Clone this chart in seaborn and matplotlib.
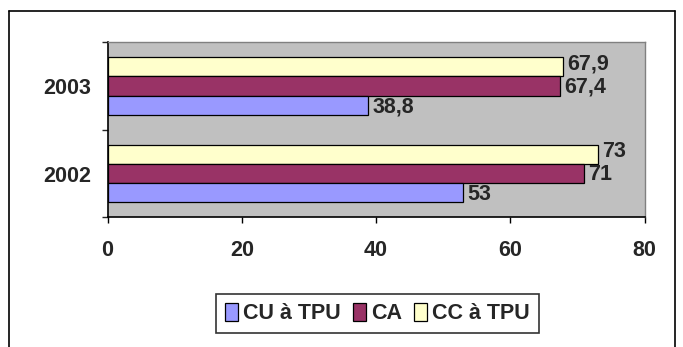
import matplotlib
matplotlib.use("Agg")
import matplotlib.pyplot as plt
from matplotlib.patches import Patch
from matplotlib.lines import Line2D
import seaborn as sns
import pandas as pd

years = ['2003', '2002']
series = ['CU à TPU', 'CA', 'CC à TPU']
cu_tpu = [38.8, 53]
ca = [67.4, 71]
cc_tpu = [67.9, 73]
colors = {'CU à TPU': '#9999FF', 'CA': '#993366', 'CC à TPU': '#FFFFCC'}

rows = []
for name, vals in zip(series, [cu_tpu, ca, cc_tpu]):
    for yr, v in zip(years, vals):
        rows.append({'year': yr, 'serie': name, 'value': v})
df = pd.DataFrame(rows)

sns.set_style('white')
plt.rcParams['font.family'] = ['Liberation Sans Narrow', 'Liberation Sans', 'DejaVu Sans']
plt.rcParams['font.weight'] = 'bold'
FS = 15.5

fig = plt.figure(figsize=(6.83, 3.47), dpi=100)
ax = fig.add_axes([0.1574, 0.3738, 0.7864, 0.5042])
ax.set_facecolor('#C0C0C0')

# seaborn puts the first hue on top, so reverse to get CU at the bottom
hue_order = series[::-1]
sns.barplot(data=df, x='value', y='year', hue='serie', order=years,
            hue_order=hue_order, palette=colors, orient='h', width=0.66,
            edgecolor='black', linewidth=0.9, saturation=1, ax=ax, legend=False)

for cont, name in zip(ax.containers, hue_order):
    vals = df[df['serie'] == name].set_index('year').loc[years, 'value']
    labels = [f'{v:g}'.replace('.', ',') for v in vals]
    txts = ax.bar_label(cont, labels=labels, padding=3, fontsize=FS, fontweight='bold')
    # small vertical nudge so neighbouring labels don't collide
    dy = {'CC à TPU': 2, 'CA': -1, 'CU à TPU': -1}[name]
    for t in txts:
        x, y = t.xyann
        t.xyann = (x, dy)

ax.set_xlim(0, 80)
ax.set_ylim(1.5, -0.5)
ax.set_xticks([0, 20, 40, 60, 80])
ax.tick_params(axis='x', direction='out', length=4, width=1, pad=12,
               labelsize=FS, color='black', bottom=True)
ax.set_yticks([-0.5, 0.5, 1.5])
ax.set_yticklabels([])
ax.set_yticks([0, 1], minor=True)
ax.set_yticklabels(years, minor=True)
ax.tick_params(axis='y', which='major', direction='out', length=4, width=1, left=True)
ax.tick_params(axis='y', which='minor', length=0, pad=12, labelsize=FS)
ax.set_xlabel('')
ax.set_ylabel('')
for lab in ax.get_xticklabels() + ax.get_yticklabels(minor=True):
    lab.set_fontweight('bold')

for s in ['left', 'bottom']:
    ax.spines[s].set_color('black')
    ax.spines[s].set_linewidth(1.2)
for s in ['top', 'right']:
    ax.spines[s].set_color('#808080')
    ax.spines[s].set_linewidth(1)

handles = [Patch(facecolor=colors[n], edgecolor='black', linewidth=0.9) for n in series]
leg = fig.legend(handles, series, loc='center', bbox_to_anchor=(0.5525, 0.0965),
                 ncol=3, frameon=True, fancybox=False, edgecolor='black',
                 prop={'weight': 'bold', 'size': FS},
                 handlelength=0.6, handleheight=0.9, handletextpad=0.25,
                 columnspacing=0.55, borderpad=0.4, borderaxespad=0)
leg.get_frame().set_linewidth(1.2)

# outer chart frame
fx0, fx1, fy1 = 8.7 / 683, 675 / 683, 1 - 11 / 347
for xs, ys in [([fx0, fx0], [0, fy1]), ([fx0, fx1], [fy1, fy1]), ([fx1, fx1], [fy1, 0])]:
    fig.add_artist(Line2D(xs, ys, color='black', linewidth=1.2, transform=fig.transFigure))

fig.savefig('out.png', dpi=100)
